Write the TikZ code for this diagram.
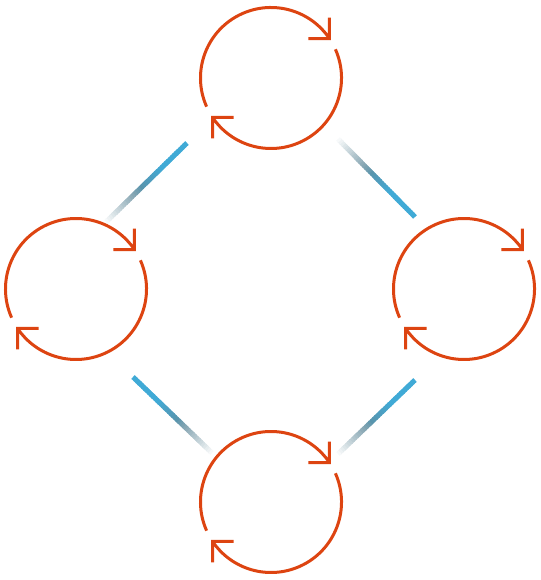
\documentclass[tikz,border=0pt]{standalone}
\usepackage{xcolor}
\usepackage{tikz}
\usetikzlibrary{calc}
\definecolor{RingOrange}{HTML}{DD4411}
\definecolor{BondBlue}{HTML}{40AAD6}
\definecolor{BondSlate}{HTML}{648C9C}

% fading bond: blue end first, faded end second
\newcommand{\bondline}[2]{%
	\foreach \i in {0,...,39}{
		\pgfmathsetmacro\ta{\i/40}
		\pgfmathsetmacro\tb{min(1,(\i+1.5)/40)}
		\pgfmathtruncatemacro\pb{max(0,min(100,(0.66-\ta)/0.36*100))}
		\pgfmathtruncatemacro\pw{max(0,min(100,(1-\ta)/0.45*100))}
		\draw[bond,draw=BondBlue!\pb!BondSlate!\pw!white] ($(#1)!\ta!(#2)$) -- ($(#1)!\tb!(#2)$);
	}}

\begin{document}
\begin{tikzpicture}[
			x=1pt,y=1pt,
			ring/.style={draw=RingOrange,line width=3pt,miter limit=4},
			bond/.style={line width=5pt}
		]
		\useasboundingbox (0,0) rectangle (540,580);
		\coordinate (top) at (271,502);
		\coordinate (left) at (76,291);
		\coordinate (right) at (464,291);
		\coordinate (bottom) at (271,78);
		% bond ends
		\coordinate (tl-a) at (187,437);
		\coordinate (tl-b) at (106,358);
		\coordinate (tr-a) at (415,363);
		\coordinate (tr-b) at (338,441);
		\coordinate (bl-a) at (133,203);
		\coordinate (bl-b) at (212,127);
		\coordinate (br-a) at (415,200);
		\coordinate (br-b) at (338,126);
		\bondline{tl-a}{tl-b}
		\bondline{tr-a}{tr-b}
		\bondline{bl-a}{bl-b}
		\bondline{br-a}{br-b}
		% rings
		\foreach \n in {top,left,right,bottom}{
			\draw[ring] ($(\n)+(204:70.5)$) arc[start angle=204,end angle=34,radius=70.5]
				coordinate (tip) ++(-21,0) -- (tip) -- ++(0,21);
			\draw[ring] ($(\n)+(24:70.5)$) arc[start angle=24,end angle=-146,radius=70.5]
				coordinate (tip) ++(21,0) -- (tip) -- ++(0,-21);
		}
	\end{tikzpicture}
\end{document}
